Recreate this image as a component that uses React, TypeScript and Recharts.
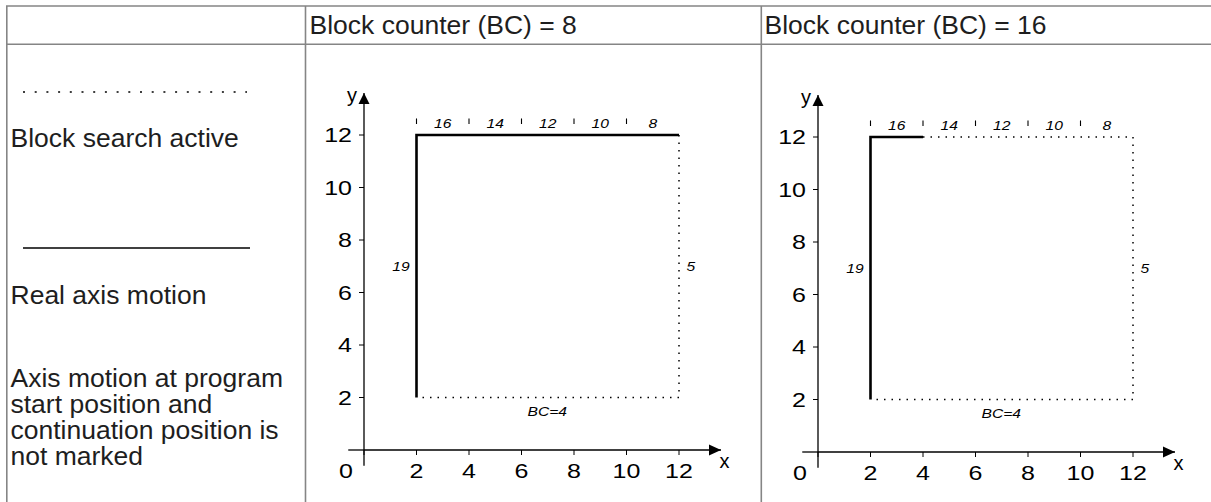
import React from 'react';
import { LineChart, Line, XAxis, YAxis, ReferenceLine, ReferenceDot } from 'recharts';

const FONT = '"Liberation Sans", Arial, Helvetica, sans-serif';
const SX = 1.25; // horizontal stretch of the chart lettering

// ---- text content ----
const headerTitles = ['Block counter (BC) = 8', 'Block counter (BC) = 16'];
const legendSearch = 'Block search active';
const legendReal = 'Real axis motion';
const legendNote = ['Axis motion at program', 'start position and', 'continuation position is', 'not marked'];

// ---- axes ----
const xTicks = [0, 2, 4, 6, 8, 10, 12];
const yTicks = [2, 4, 6, 8, 10, 12];

// ---- paths: BC = 8 ----
const realPathBC8 = [
  { x: 2, y: 2 },
  { x: 2, y: 12 },
  { x: 12, y: 12 },
];
const searchPathBC8 = [
  { x: 12, y: 12 },
  { x: 12, y: 2 },
  { x: 2, y: 2 },
];

// ---- paths: BC = 16 ----
const realPathBC16 = [
  { x: 2, y: 2 },
  { x: 2, y: 12 },
  { x: 4, y: 12 },
];
const searchPathBC16 = [
  { x: 4, y: 12 },
  { x: 12, y: 12 },
  { x: 12, y: 2 },
  { x: 2, y: 2 },
];

// ---- block annotations ----
const blockSeparatorsX = [2, 4, 6, 8, 10];
const blockNumbers = ['16', '14', '12', '10', '8'];
const blockNumbersX = [3, 5, 7, 9, 11];
const blockNumbersY = 12.42;
const sideLabels = [
  { text: '19', x: 1.41, y: 6.98 },
  { text: '5', x: 12.45, y: 6.98 },
  { text: 'BC=4', x: 6.98, y: 1.46 },
];

// ---- geometry ----
const UNIT = 26.25;
const DMAX = 13.6;
const PLOT = UNIT * DMAX;
const ML = 60;
const MT = 30;
const MB = 45;
const MR = 24;

const XTick = (props: any) => {
  const { x, y, payload } = props;
  const dx = payload.value === 0 ? -18 : 0;
  return (
    <text
      transform={`translate(${x + dx},${y}) scale(${SX},1)`}
      textAnchor="middle"
      dy={14.5}
      fontSize={20}
      fontFamily={FONT}
      fill="#000"
    >
      {payload.value}
    </text>
  );
};

const YTick = (props: any) => {
  const { x, y, payload } = props;
  return (
    <text
      transform={`translate(${x},${y}) scale(${SX},1)`}
      textAnchor="end"
      dy={7.2}
      fontSize={20}
      fontFamily={FONT}
      fill="#000"
    >
      {payload.value}
    </text>
  );
};

const ArrowRight = (p: any) => (
  <g>
    <polygon points={`${p.cx},${p.cy} ${p.cx - 12},${p.cy - 5.5} ${p.cx - 12},${p.cy + 5.5}`} fill="#000" />
    <text transform={`translate(${p.cx + 3.5},${p.cy + 18})`} textAnchor="middle" fontSize={20} fontFamily={FONT} fill="#000">
      x
    </text>
  </g>
);

const ArrowUp = (p: any) => (
  <g>
    <polygon points={`${p.cx},${p.cy} ${p.cx - 5.5},${p.cy + 11} ${p.cx + 5.5},${p.cy + 11}`} fill="#000" />
    <text transform={`translate(${p.cx - 12},${p.cy + 8.5})`} textAnchor="middle" fontSize={20} fontFamily={FONT} fill="#000">
      y
    </text>
  </g>
);

const italicLabel = (text: string) => (p: any) => (
  <text
    transform={`translate(${p.cx},${p.cy}) scale(${SX},1)`}
    textAnchor="middle"
    dy="0.36em"
    fontSize={12.5}
    fontStyle="italic"
    fontFamily={FONT}
    fill="#000"
  >
    {text}
  </text>
);

type Pt = { x: number; y: number };

const Diagram = ({ ox, oy, real, search }: { ox: number; oy: number; real: Pt[]; search: Pt[] }) => {
  const W = ML + PLOT + MR;
  const H = MT + PLOT + MB;
  return (
    <div style={{ position: 'absolute', left: ox - ML, top: oy - PLOT - MT }}>
      <LineChart width={W} height={H} margin={{ top: MT, right: MR, bottom: 0, left: 0 }}>
        <XAxis
          type="number"
          dataKey="x"
          domain={[0, DMAX]}
          ticks={xTicks}
          interval={0}
          allowDataOverflow
          height={MB}
          tickSize={5}
          tickMargin={8}
          axisLine={{ stroke: '#000', strokeWidth: 1.3 }}
          tickLine={{ stroke: '#000', strokeWidth: 1 }}
          tick={XTick}
        />
        <YAxis
          type="number"
          dataKey="y"
          domain={[0, DMAX]}
          ticks={yTicks}
          interval={0}
          allowDataOverflow
          width={ML}
          tickSize={5}
          tickMargin={7}
          axisLine={{ stroke: '#000', strokeWidth: 1.3 }}
          tickLine={{ stroke: '#000', strokeWidth: 1 }}
          tick={YTick}
        />
        <ReferenceLine
          segment={[{ x: -0.6, y: 0 }, { x: 0, y: 0 }]}
          ifOverflow="visible"
          stroke="#000"
          strokeWidth={1.3}
        />
        <ReferenceLine
          segment={[{ x: 0, y: -0.6 }, { x: 0, y: 0 }]}
          ifOverflow="visible"
          stroke="#000"
          strokeWidth={1.3}
        />
        <ReferenceDot x={DMAX} y={0} ifOverflow="visible" shape={ArrowRight} />
        <ReferenceDot x={0} y={DMAX} ifOverflow="visible" shape={ArrowUp} />
        {blockSeparatorsX.map((bx) => (
          <ReferenceLine
            key={`sep-${bx}`}
            segment={[{ x: bx, y: 12.42 }, { x: bx, y: 12.63 }]}
            ifOverflow="visible"
            stroke="#000"
            strokeWidth={1.1}
          />
        ))}
        {blockNumbers.map((t, i) => (
          <ReferenceDot key={`bn-${t}`} x={blockNumbersX[i]} y={blockNumbersY} ifOverflow="visible" shape={italicLabel(t)} />
        ))}
        {sideLabels.map((l) => (
          <ReferenceDot key={`sl-${l.text}`} x={l.x} y={l.y} ifOverflow="visible" shape={italicLabel(l.text)} />
        ))}
        <Line
          data={search}
          dataKey="y"
          type="linear"
          stroke="#000"
          strokeWidth={1.5}
          strokeDasharray="1.5 6"
          dot={false}
          activeDot={false}
          isAnimationActive={false}
        />
        <Line
          data={real}
          dataKey="y"
          type="linear"
          stroke="#000"
          strokeWidth={2.6}
          dot={false}
          activeDot={false}
          isAnimationActive={false}
        />
      </LineChart>
    </div>
  );
};

const BORDER = '#858585';
const TEXT = '#1e1e1e';

export default function App() {
  return (
    <div style={{ position: 'absolute', left: 0, top: 0, width: 1211, height: 502, overflow: 'hidden', background: '#fff' }}>
      <svg width={1211} height={502} style={{ position: 'absolute', left: 0, top: 0 }}>
        {/* table grid */}
        <line x1={6} y1={6} x2={1211} y2={6} stroke={BORDER} strokeWidth={1.6} />
        <line x1={6} y1={44.3} x2={1211} y2={44.3} stroke={BORDER} strokeWidth={1.6} />
        <line x1={6.8} y1={6} x2={6.8} y2={502} stroke={BORDER} strokeWidth={1.6} />
        <line x1={305.5} y1={6} x2={305.5} y2={502} stroke={BORDER} strokeWidth={1.6} />
        <line x1={761.3} y1={6} x2={761.3} y2={502} stroke={BORDER} strokeWidth={1.6} />
        {/* headers */}
        <text x={309.5} y={34.3} fontSize={26.5} fontFamily={FONT} fill={TEXT}>
          {headerTitles[0]}
        </text>
        <text x={764.5} y={34.3} fontSize={26.5} fontFamily={FONT} fill={TEXT}>
          {headerTitles[1]}
        </text>
        {/* legend */}
        <line x1={23} y1={92} x2={247} y2={92} stroke="#000" strokeWidth={1.5} strokeDasharray="2 9.7" />
        <text x={10.5} y={146.5} fontSize={26.5} fontFamily={FONT} fill={TEXT}>
          {legendSearch}
        </text>
        <line x1={23} y1={248} x2={250} y2={248} stroke="#000" strokeWidth={1.5} />
        <text x={10.5} y={303.5} fontSize={26.5} fontFamily={FONT} fill={TEXT}>
          {legendReal}
        </text>
        {legendNote.map((t, i) => (
          <text key={t} x={10.5} y={387 + i * 26} fontSize={26.5} fontFamily={FONT} fill={TEXT}>
            {t}
          </text>
        ))}
      </svg>
      <Diagram ox={364} oy={450} real={realPathBC8} search={searchPathBC8} />
      <Diagram ox={817.5} oy={451.6} real={realPathBC16} search={searchPathBC16} />
    </div>
  );
}
